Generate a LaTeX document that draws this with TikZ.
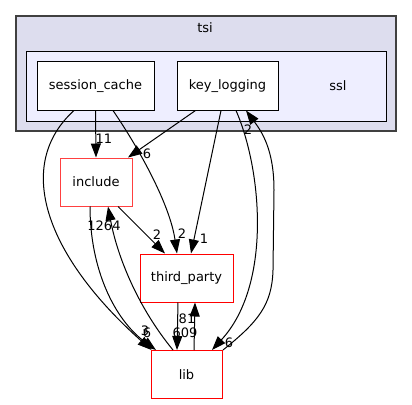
\documentclass[tikz,border=0pt]{standalone}
\usepackage{fontspec}
\setmainfont{DejaVu Sans}
\usetikzlibrary{arrows.meta}
\pgfdeclarelayer{background}
\pgfsetlayers{background,main}
\definecolor{tsifill}{HTML}{DDDDEE}
\definecolor{sslfill}{HTML}{EEEEFF}
\definecolor{tsiline}{HTML}{404040}
\tikzstyle{dirbox}=[draw=black,fill=white,line width=1pt,minimum height=48pt,inner sep=0pt]
\tikzstyle{ext dir}=[draw=red,fill=white,line width=1pt,minimum height=48pt,inner sep=0pt]
\tikzstyle{dep}=[draw,line width=1pt,-{Triangle[length=14pt,width=10pt]}]
\tikzstyle{count}=[inner sep=0pt]

\begin{document}
\begin{tikzpicture}[x=1pt,y=-1pt,font=\fontsize{13pt}{15pt}\selectfont]
    \useasboundingbox (0,0) rectangle (412,404);
	\foreach \pos/\name/\w/\txt in {{(95.5,86)/sessioncache/117/session\_cache},
                                    {(227.5,86)/keylogging/101/key\_logging}}
        \node[dirbox,minimum width=\w pt] (\name) at \pos {\txt};
	\foreach \pos/\name/\w/\txt/\col in {{(96,182)/include/72/include/red!75},
                                         {(186.5,278)/thirdparty/93/third\_party/red},
                                         {(186.5,374.5)/lib/71/lib/red}}
        \node[ext dir,draw=\col,minimum width=\w pt] (\name) at \pos {\txt};

    % straight dependencies
    \draw[dep] (sessioncache.south) -- (include.north);
    \draw[dep] ([xshift=-32pt]keylogging.south) -- ([xshift=32pt]include.north);
    \draw[dep] ([xshift=-6.5pt]keylogging.south) -- ([xshift=4.5pt]thirdparty.north);
    \draw[dep] ([xshift=22pt]include.south) -- ([xshift=-21.5pt]thirdparty.north);
    \draw[dep] ([xshift=-8.5pt]thirdparty.south) -- ([xshift=-9.5pt]lib.north);
    \draw[dep] ([xshift=7.5pt]lib.north) -- ([xshift=8.5pt]thirdparty.south);

    % curved dependencies
    \draw[dep] ([xshift=-21.5pt]sessioncache.south) .. controls (14,165) and (45,255) .. ([xshift=-35pt]lib.north);
    \draw[dep] ([xshift=17.5pt]sessioncache.south) .. controls (140,150) and (170,205) .. ([xshift=-9.5pt]thirdparty.north);
    \draw[dep] ([xshift=8.5pt]keylogging.south) .. controls (262,170) and (272,285) .. ([xshift=25.5pt]lib.north);
    \draw[dep] ([xshift=36.5pt]lib.north) .. controls (258,322) and (272,305) .. (273,270)
        -- (274,190) .. controls (274,150) and (262,132) .. ([xshift=18.5pt]keylogging.south);
    \draw[dep] ([xshift=-6pt]include.south) .. controls (90,270) and (115,320) .. ([xshift=-30.5pt]lib.north);
    \draw[dep] ([xshift=-13.5pt]lib.north) .. controls (140,310) and (118,260) .. ([xshift=12pt]include.south);

    \foreach \pos/\name/\txt in {{(104,139)/n11/11}, {(147,154)/n6a/6}, {(182,234)/n2a/2},
                                 {(204,239)/n1/1}, {(248,130)/n2b/2}, {(104,226)/n1264/1264},
                                 {(157,235)/n2c/2}, {(229,343)/n6b/6}, {(145,331)/n3/3},
                                 {(147,333)/n6c/6}, {(185,333)/n609/609}, {(187,319)/n81/81}}
        \node[count] (\name) at \pos {\txt};

	\begin{pgfonlayer}{background}
        \draw[fill=tsifill,draw=tsiline,line width=1.4pt] (16,16) rectangle (396,131);
        \node (tsilabel) at (205,28) {tsi};
        \draw[fill=sslfill,draw=black,line width=1pt] (26,52) rectangle (386,121);
        \node (ssllabel) at (338,86) {ssl};
    \end{pgfonlayer}
\end{tikzpicture}
\end{document}
